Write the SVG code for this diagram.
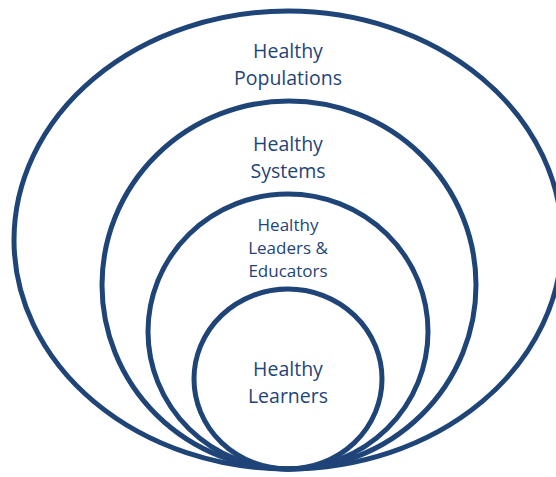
<svg xmlns="http://www.w3.org/2000/svg" width="556" height="477" viewBox="0 0 556 477">
<style>
.ring{fill:none;stroke:#1F4478;stroke-width:5}
.lbl{font-family:"Open Sans","Liberation Sans",sans-serif;fill:#1F4478;text-anchor:middle}
.big{font-size:19.5px}
.small{font-size:17px}
</style>
<rect width="556" height="477" fill="#fff"/>
<g id="populations">
<ellipse class="ring" cx="288" cy="240" rx="274" ry="229"/>
<text class="lbl big" x="288" y="58">Healthy</text>
<text class="lbl big" x="288" y="84.5">Populations</text>
</g>
<g id="systems">
<ellipse class="ring" cx="289" cy="285" rx="187" ry="184"/>
<text class="lbl big" x="288" y="151">Healthy</text>
<text class="lbl big" x="288" y="177.5">Systems</text>
</g>
<g id="leaders">
<ellipse class="ring" cx="288" cy="331.5" rx="140" ry="137.5"/>
<text class="lbl small" x="288" y="231">Healthy</text>
<text class="lbl small" x="288" y="254">Leaders &amp;</text>
<text class="lbl small" x="288" y="277">Educators</text>
</g>
<g id="learners">
<ellipse class="ring" cx="288" cy="379" rx="94" ry="90"/>
<text class="lbl big" x="288" y="376">Healthy</text>
<text class="lbl big" x="288" y="402.5">Learners</text>
</g>
<g id="connectors"></g>
</svg>
